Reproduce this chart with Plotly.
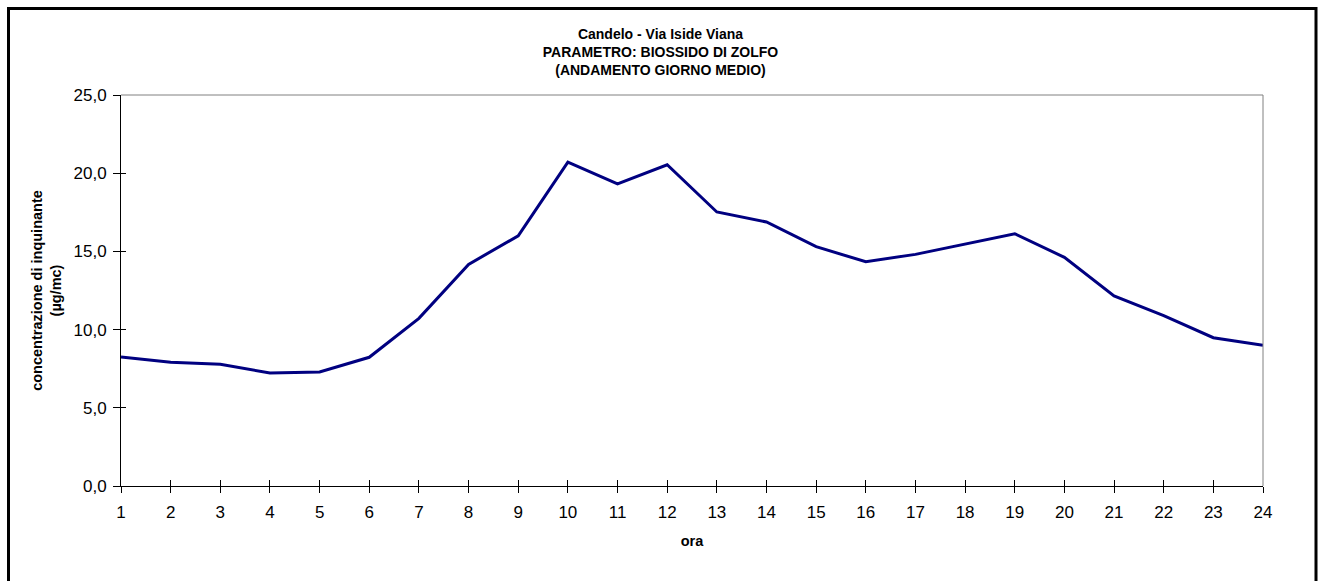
import plotly.graph_objects as go

ore = list(range(1, 25))
so2 = [8.25, 7.91, 7.78, 7.23, 7.29, 8.23, 10.72, 14.17, 16.0, 20.70, 19.31, 20.54,
       17.52, 16.88, 15.30, 14.34, 14.81, 15.45, 16.13, 14.62, 12.15, 10.89, 9.48, 9.0]
x_ticks = ore
y_ticks = [0, 5, 10, 15, 20, 25]

title_lines = ["Candelo - Via Iside Viana", "PARAMETRO: BIOSSIDO DI ZOLFO", "(ANDAMENTO GIORNO MEDIO)"]

W, H = 1321, 581
L, R, T, B = 121, 58, 95, 95
pw, ph = W - L - R, H - T - B

FONT = "Liberation Sans, Arial, sans-serif"

fig = go.Figure()
fig.add_trace(go.Scatter(x=ore, y=so2, mode="lines",
                         line=dict(color="#000080", width=3), showlegend=False))
# invisible trace for secondary axes (inside ticks)
fig.add_trace(go.Scatter(x=ore, y=so2, mode="lines", xaxis="x2", yaxis="y2",
                         line=dict(color="rgba(0,0,0,0)"), showlegend=False, hoverinfo="skip"))

fig.update_layout(
    width=W, height=H,
    margin=dict(l=L, r=R, t=T, b=B),
    paper_bgcolor="white", plot_bgcolor="white",
    separators=",.",
    font=dict(family=FONT, color="black"),
    title=dict(text="<br>".join(title_lines), x=0.5, xref="container", xanchor="center",
               y=1 - 39 / H, yref="container", yanchor="top",
               font=dict(family=FONT, size=14, color="black", weight="bold")),
    xaxis=dict(range=[1, 24], tickvals=x_ticks, ticktext=[str(v) for v in x_ticks],
               showgrid=False, zeroline=False, showline=True, linecolor="black", linewidth=1,
               ticks="outside", ticklen=6, tickcolor="black", tickwidth=1,
               ticklabelstandoff=5,
               tickfont=dict(size=17, family=FONT, color="black"),
               title=dict(text="ora", standoff=14,
                          font=dict(size=14.5, family=FONT, color="black", weight="bold"))),
    yaxis=dict(range=[0, 25], tickvals=y_ticks, tickformat=".1f",
               showgrid=False, zeroline=False, showline=True, linecolor="black", linewidth=1,
               ticks="outside", ticklen=7, tickcolor="black", tickwidth=1,
               ticklabelstandoff=3,
               tickfont=dict(size=17, family=FONT, color="black"),
               title=dict(text="concentrazione di inquinante<br>(µg/mc)", standoff=8,
                          font=dict(size=14.5, family=FONT, color="black", weight="bold"))),
    xaxis2=dict(range=[1, 24], tickvals=x_ticks, overlaying="x", side="bottom", anchor="y",
                showticklabels=False, showgrid=False, zeroline=False, showline=False,
                ticks="inside", ticklen=6, tickcolor="black", tickwidth=1),
    yaxis2=dict(range=[0, 25], tickvals=y_ticks, overlaying="y", side="left", anchor="x",
                showticklabels=False, showgrid=False, zeroline=False, showline=False,
                ticks="inside", ticklen=5, tickcolor="black", tickwidth=1),
    shapes=[
        dict(type="line", xref="paper", yref="paper", x0=0, x1=1, y0=1, y1=1,
             line=dict(color="#808080", width=1)),
        dict(type="line", xref="paper", yref="paper", x0=1, x1=1, y0=0, y1=1,
             line=dict(color="#808080", width=1)),
        dict(type="rect", xref="paper", yref="paper",
             x0=(8.5 - L) / pw, x1=(1316 - L) / pw,
             y0=(H - B - 600) / ph, y1=(H - B - 8.5) / ph,
             line=dict(color="black", width=3), fillcolor="rgba(0,0,0,0)", layer="above"),
    ],
)

fig.write_html("out.html")
